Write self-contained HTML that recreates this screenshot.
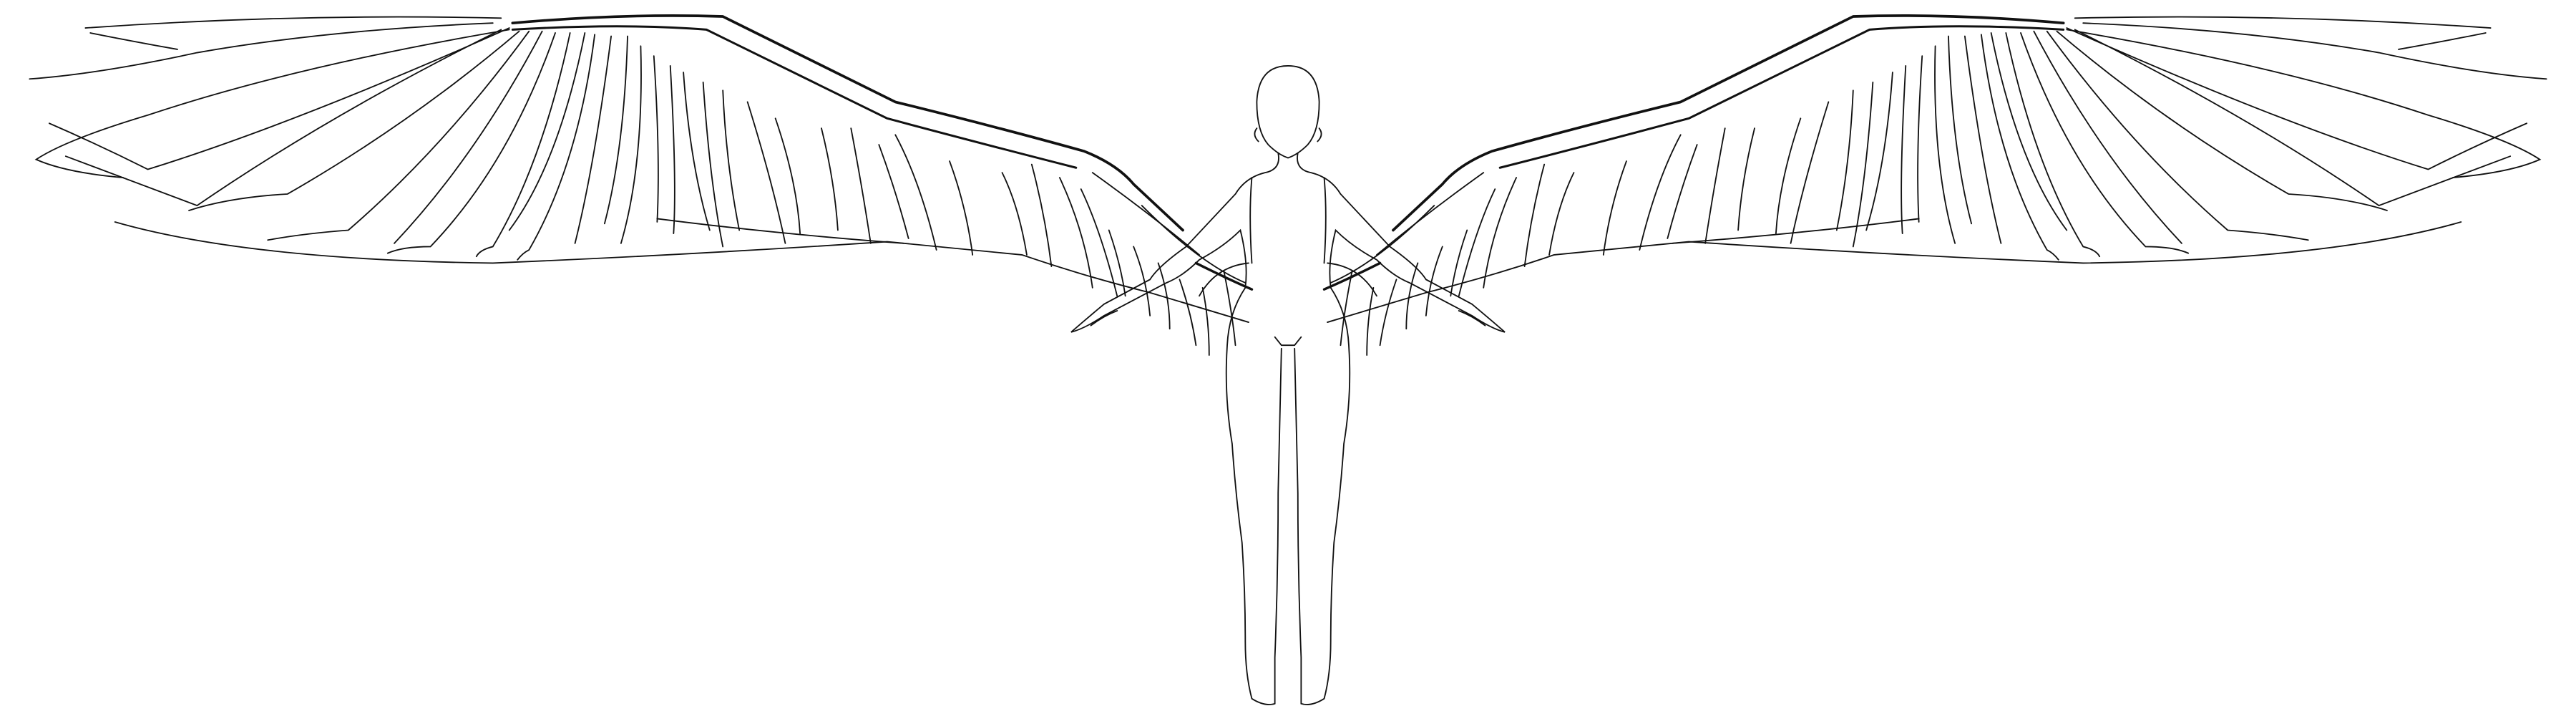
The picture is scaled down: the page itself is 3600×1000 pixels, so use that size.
<!DOCTYPE html>
<html><head><meta charset="utf-8"><style>
html,body{margin:0;padding:0;background:#fff}
svg{display:block}
</style></head><body>
<svg width="3600" height="1000" viewBox="0 0 1568 435.5" xmlns="http://www.w3.org/2000/svg" fill="none" stroke="#111" stroke-width="0.8" stroke-linecap="round">
<defs>
<g id="wing">
  <!-- leading edge (thick) -->
  <path d="M312,14 Q380,8 440,10 L545,62 Q610,78 660,92 Q680,100 690,112 L720,140" stroke-width="1.6"/>
  <path d="M312,18 Q380,14 430,18 L540,72 Q600,88 655,102" stroke-width="1.3"/>
  <path d="M728,160 Q748,170 762,176" stroke-width="1.5"/>
  <!-- outer top edge -->
  <path d="M52,17 Q180,8 305,11"/>
  <path d="M55,20 Q80,25 108,30"/>
  <path d="M300,14 Q200,18 120,32 Q60,45 18,48"/>
  <path d="M310,18 Q180,40 90,70 Q40,85 22,97 Q40,105 75,108"/>
  <!-- bottom edge -->
  <path d="M70,135 Q150,158 300,160 Q420,155 540,147 L622,155 Q660,168 700,178 L760,196"/>
  <path d="M400,133 Q470,142 550,148"/>
  <!-- primaries -->
  <path d="M305,18 Q200,70 120,125 Q80,110 40,95"/>
  <path d="M310,17 Q180,75 90,103 Q60,88 30,75"/>
  <path d="M316,19 Q250,75 175,118 Q140,120 115,128"/>
  <path d="M322,19 Q270,90 212,140 Q185,142 163,146"/>
  <path d="M330,19 Q290,95 240,148"/>
  <path d="M338,20 Q310,100 262,150 Q245,150 236,154"/>
  <path d="M347,20 Q330,100 300,150 Q292,152 290,156"/>
  <path d="M356,20 Q340,100 310,140"/>
  <path d="M362,21 Q352,100 322,152 Q318,154 315,158"/>
  <path d="M372,22 Q362,100 350,148"/>
  <path d="M382,22 Q380,90 368,136"/>
  <path d="M390,28 Q392,100 378,148"/>
  <path d="M398,34 Q402,95 400,135"/>
  <path d="M408,40 Q412,110 410,142"/>
  <path d="M416,44 Q420,100 432,140"/>
  <path d="M428,50 Q432,110 440,150"/>
  <path d="M440,55 Q442,100 450,140"/>
  <!-- secondaries -->
  <path d="M455,62 Q470,110 478,148"/>
  <path d="M472,72 Q485,110 487,142"/>
  <path d="M500,78 Q508,110 510,140"/>
  <path d="M518,78 Q525,115 530,148"/>
  <path d="M535,88 Q545,115 553,145"/>
  <path d="M545,82 Q560,110 570,152"/>
  <path d="M578,98 Q588,125 592,155"/>
  <path d="M610,105 Q620,125 625,155"/>
  <path d="M628,100 Q636,130 640,162"/>
  <path d="M645,108 Q660,140 665,175"/>
  <path d="M658,115 Q670,140 680,180"/>
  <path d="M675,140 Q682,160 685,180"/>
  <path d="M690,150 Q698,170 700,192"/>
  <path d="M705,160 Q712,180 712,200"/>
  <path d="M718,170 Q725,190 728,210"/>
  <path d="M732,175 Q736,195 736,216"/>
  <path d="M745,165 Q750,190 752,210"/>
  <path d="M695,125 Q730,160 758,172"/>
  <path d="M665,105 Q700,130 730,155"/>
</g>
</defs>
<g><use href="#wing"/></g>
<g><use href="#wing" transform="translate(1568,0) scale(-1,1)"/></g>
<g stroke-width="0.8">
  <path d="M784,40 Q766,40 765,62 Q765,80 772,88 Q778,94 784,96 Q790,94 796,88 Q803,80 803,62 Q802,40 784,40 Z"/>
  <path d="M765,78 Q762,82 766,86 M803,78 Q806,82 802,86"/>
  <path d="M778,93 Q780,103 770,105 Q758,108 752,118 L722,150 Q705,162 700,170 L672,185 Q660,195 652,202 Q660,200 672,192 L710,172 Q720,168 730,158 Q745,150 755,140 Q760,160 758,175 Q748,190 747,210 Q745,240 750,270 Q752,300 756,330 Q758,360 758,390 Q758,410 762,425 Q770,430 776,428 L776,400 Q778,350 778,300 L780,212 M790,93 Q788,103 798,105 Q810,108 816,118 L846,150 Q863,162 868,170 L896,185 Q908,195 916,202 Q908,200 896,192 L858,172 Q848,168 838,158 Q823,150 813,140 Q808,160 810,175 Q820,190 821,210 Q823,240 818,270 Q816,300 812,330 Q810,360 810,390 Q810,410 806,425 Q798,430 792,428 L792,400 Q790,350 790,300 L788,212"/>
  <path d="M776,205 L780,210 L788,210 L792,205"/>
  <path d="M762,108 Q760,130 762,160 M806,108 Q808,130 806,160"/>
  <path d="M760,160 Q740,162 730,180 M808,160 Q828,162 838,180"/>
  <path d="M664,198 Q672,192 680,189 M904,198 Q896,192 888,189"/>
</g>
</svg>
</body></html>
